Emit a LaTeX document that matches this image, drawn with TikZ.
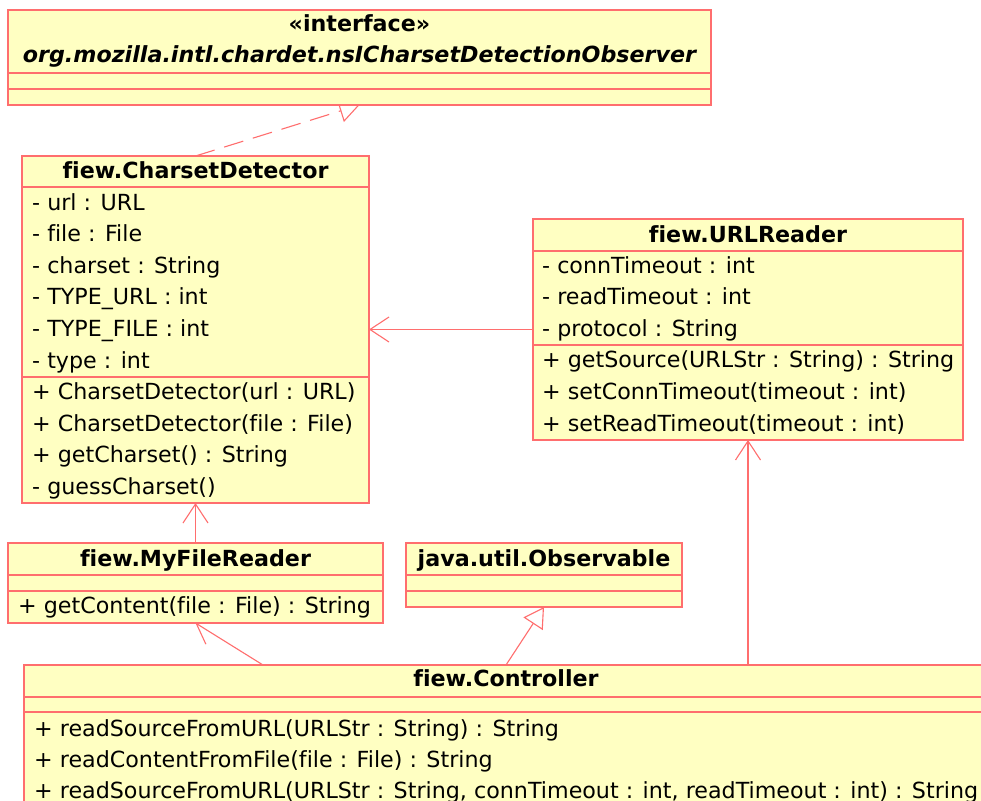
\documentclass[tikz,border=0pt]{standalone}
\usepackage{fontspec}
\setmainfont{DejaVu Sans}[Ligatures=CommonOff]
\usetikzlibrary{arrows.meta,backgrounds,calc}
\definecolor{umlfill}{RGB}{255,255,194}
\definecolor{umlline}{RGB}{255,110,110}
\begin{document}
\begin{tikzpicture}[x=1pt,y=-1pt,
  box/.style={draw=umlline, fill=umlfill, line width=1.1pt, rectangle, inner sep=0pt, outer sep=0pt, anchor=north west},
  member/.style={anchor=base west, inner sep=0pt, font=\fontsize{22.2}{26}\selectfont},
  ctitle/.style={anchor=base, inner sep=0pt, font=\fontsize{22.2}{26}\selectfont\bfseries},
  sepline/.style={draw=umlline, line width=1.1pt},
  conn/.style={draw=umlline, line width=1.1pt},
  navarrow/.style={-{Straight Barb[length=19pt,width=25pt,line width=1.1pt]}},
  genarrow/.style={-{Triangle[open,length=20pt,width=23pt,line width=1.1pt]}},
]
\useasboundingbox (0,0) rectangle (981,800);
\begin{scope}
\clip (0,0) rectangle (981,800);
% boxes
\node[box, minimum width=703pt, minimum height=95pt] (intf) at (8,10) {};
\node[box, minimum width=347pt, minimum height=347pt] (cd) at (22,156) {};
\node[box, minimum width=430pt, minimum height=221pt] (ur) at (533,219) {};
\node[box, minimum width=375pt, minimum height=80pt] (mfr) at (8,543) {};
\node[box, minimum width=276pt, minimum height=64pt] (obs) at (406,543) {};
\node[box, minimum width=964pt, minimum height=200pt] (ctl) at (24,665) {};

% interface
\node[ctitle] (intfs) at (intf.center |- 0,32) {«interface»};
\node[ctitle, font=\fontsize{22.2}{26}\selectfont\bfseries\itshape] (intfn) at (intf.center |- 0,63) {org.mozilla.intl.chardet.nsICharsetDetectionObserver};
\draw[sepline] (intf.west |- 0,73) -- (intf.east |- 0,73);
\draw[sepline] (intf.west |- 0,89) -- (intf.east |- 0,89);

% CharsetDetector
\node[ctitle] (cdt) at (cd.center |- 0,178) {fiew.CharsetDetector};
\draw[sepline] (cd.west |- 0,187) -- (cd.east |- 0,187);
\node[member] (cd1) at (32,210) {- url : URL};
\node[member] (cd2) at (32,241.6) {- file : File};
\node[member] (cd3) at (32,273.2) {- charset : String};
\node[member] (cd4) at (32,304.8) {- TYPE\_URL : int};
\node[member] (cd5) at (32,336.4) {- TYPE\_FILE : int};
\node[member] (cd6) at (32,368) {- type : int};
\draw[sepline] (cd.west |- 0,377) -- (cd.east |- 0,377);
\node[member] (cd7) at (32,399.6) {+ CharsetDetector(url : URL)};
\node[member] (cd8) at (32,431.2) {+ CharsetDetector(file : File)};
\node[member] (cd9) at (32,462.8) {+ getCharset() : String};
\node[member] (cd10) at (32,494.4) {- guessCharset()};

% URLReader
\node[ctitle] (urt) at (ur.center |- 0,242) {fiew.URLReader};
\draw[sepline] (ur.west |- 0,251) -- (ur.east |- 0,251);
\node[member] (ur1) at (542,273) {- connTimeout : int};
\node[member] (ur2) at (542,304.6) {- readTimeout : int};
\node[member] (ur3) at (542,336.2) {- protocol : String};
\draw[sepline] (ur.west |- 0,345) -- (ur.east |- 0,345);
\node[member] (ur4) at (542,367.8) {+ getSource(URLStr : String) : String};
\node[member] (ur5) at (542,399.4) {+ setConnTimeout(timeout : int)};
\node[member] (ur6) at (542,431) {+ setReadTimeout(timeout : int)};

% MyFileReader
\node[ctitle] (mfrt) at (mfr.center |- 0,566) {fiew.MyFileReader};
\draw[sepline] (mfr.west |- 0,575) -- (mfr.east |- 0,575);
\draw[sepline] (mfr.west |- 0,591) -- (mfr.east |- 0,591);
\node[member] (mfr1) at (18,613) {+ getContent(file : File) : String};

% Observable
\node[ctitle] (obst) at (obs.center |- 0,566) {java.util.Observable};
\draw[sepline] (obs.west |- 0,575) -- (obs.east |- 0,575);
\draw[sepline] (obs.west |- 0,591) -- (obs.east |- 0,591);

% Controller
\node[ctitle] (ctlt) at (ctl.center |- 0,686) {fiew.Controller};
\draw[sepline] (ctl.west |- 0,697) -- (ctl.east |- 0,697);
\draw[sepline] (ctl.west |- 0,712) -- (ctl.east |- 0,712);
\node[member] (ctl1) at (34,736) {+ readSourceFromURL(URLStr : String) : String};
\node[member] (ctl2) at (34,767.6) {+ readContentFromFile(file : File) : String};
\node[member] (ctl3) at (34,798.5) {+ readSourceFromURL(URLStr : String, connTimeout : int, readTimeout : int) : String};
\end{scope}

\begin{scope}[on background layer]
\fill[white] (0,0) rectangle (981,800);
\draw[conn, genarrow, dash pattern=on 20pt off 10pt] (cd.north) -- (intf.south);
\draw[conn, navarrow] (ur.west) -- (ur.west -| cd.east);
\draw[conn, navarrow] (mfr.north) -- (cd.south);
\draw[conn, navarrow] ($(ctl.north west)+(239,0)$) -- (mfr.south);
\draw[conn, genarrow] (ctl.north) -- (obs.south);
\draw[conn, navarrow] (ctl.north -| ur.south) -- (ur.south);
\end{scope}
\end{tikzpicture}
\end{document}
